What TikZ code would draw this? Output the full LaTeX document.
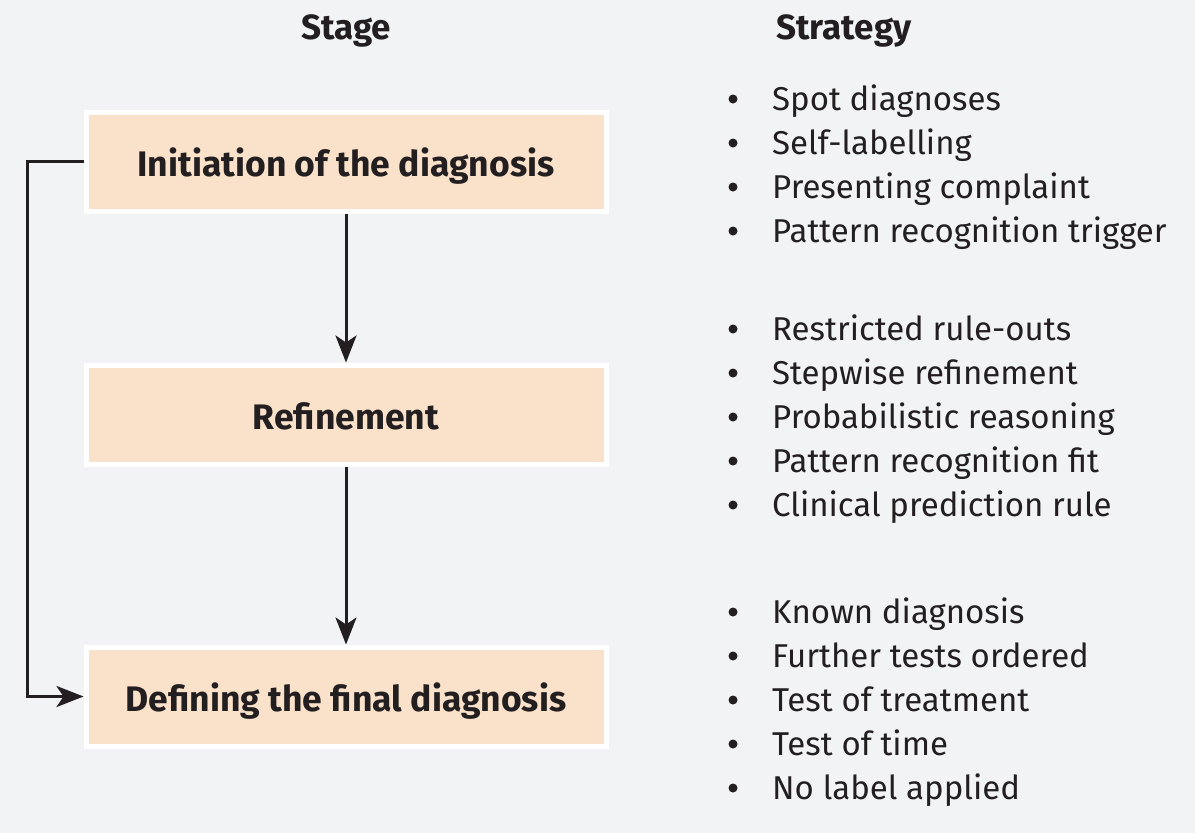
\documentclass[tikz,border=0pt]{standalone}
\usepackage{fontspec}
\setmainfont{Fira Sans}
\usetikzlibrary{arrows.meta}
\definecolor{bg}{HTML}{F2F3F5}
\definecolor{peach}{HTML}{F9E1CA}
\definecolor{ink}{HTML}{231F20}
\tikzset{
  stagebox/.style={draw=white, line width=5pt, fill=peach, minimum width=520pt, minimum height=99pt, inner sep=0pt, text height=34pt, text depth=5pt, font=\fontsize{35.5pt}{40pt}\selectfont\bfseries, text=ink},
  header/.style={font=\fontsize{35pt}{40pt}\selectfont\bfseries, text=ink, anchor=base, inner sep=0pt},
  item/.style={font=\fontsize{33pt}{38pt}\selectfont, text=ink, anchor=base west, inner sep=0pt},
  bul/.style={circle, fill=ink, inner sep=0pt, minimum size=9pt},
  conn/.style={draw=ink, line width=3pt, -{Stealth[length=27pt, width=21pt, inset=7pt]}},
}
\begin{document}
\begin{tikzpicture}[x=1pt,y=-1pt]
\fill[bg] (0,0) rectangle (1195,833);
\useasboundingbox (0,0) rectangle (1195,833);
\node[header] (hstage) at (346,39) {Stage};
\node[header] (hstrat) at (844,39) {Strategy};
\node[stagebox] (b1) at (346,161.5) {Initiation of the diagnosis};
\node[stagebox] (b2) at (346,414.5) {Refinement};
\node[stagebox] (b3) at (346,696.5) {Defining the final diagnosis};
\draw[conn] (b1.south) -- (b2.north);
\draw[conn] (b2.south) -- (b3.north);
\coordinate (c1) at (27.7,161.5);
\coordinate (c2) at (27.7,696.5);
\draw[conn] (b1.west) -- (c1) -- (c2) -- (b3.west);
\foreach \t [count=\i] in {Spot diagnoses,Self-labelling,Presenting complaint,Pattern recognition trigger}{
  \node[bul] (ba\i) at (733,{110+44*(\i-1)-11}) {};
  \node[item] (ta\i) at (772,{110+44*(\i-1)}) {\t};
}
\foreach \t [count=\i] in {Restricted rule-outs,Stepwise refinement,Probabilistic reasoning,Pattern recognition fit,Clinical prediction rule}{
  \node[bul] (bb\i) at (733,{340+44*(\i-1)-11}) {};
  \node[item] (tb\i) at (772,{340+44*(\i-1)}) {\t};
}
\foreach \t [count=\i] in {Known diagnosis,Further tests ordered,Test of treatment,Test of time,No label applied}{
  \node[bul] (bc\i) at (733,{623+44*(\i-1)-11}) {};
  \node[item] (tc\i) at (772,{623+44*(\i-1)}) {\t};
}
\end{tikzpicture}
\end{document}
